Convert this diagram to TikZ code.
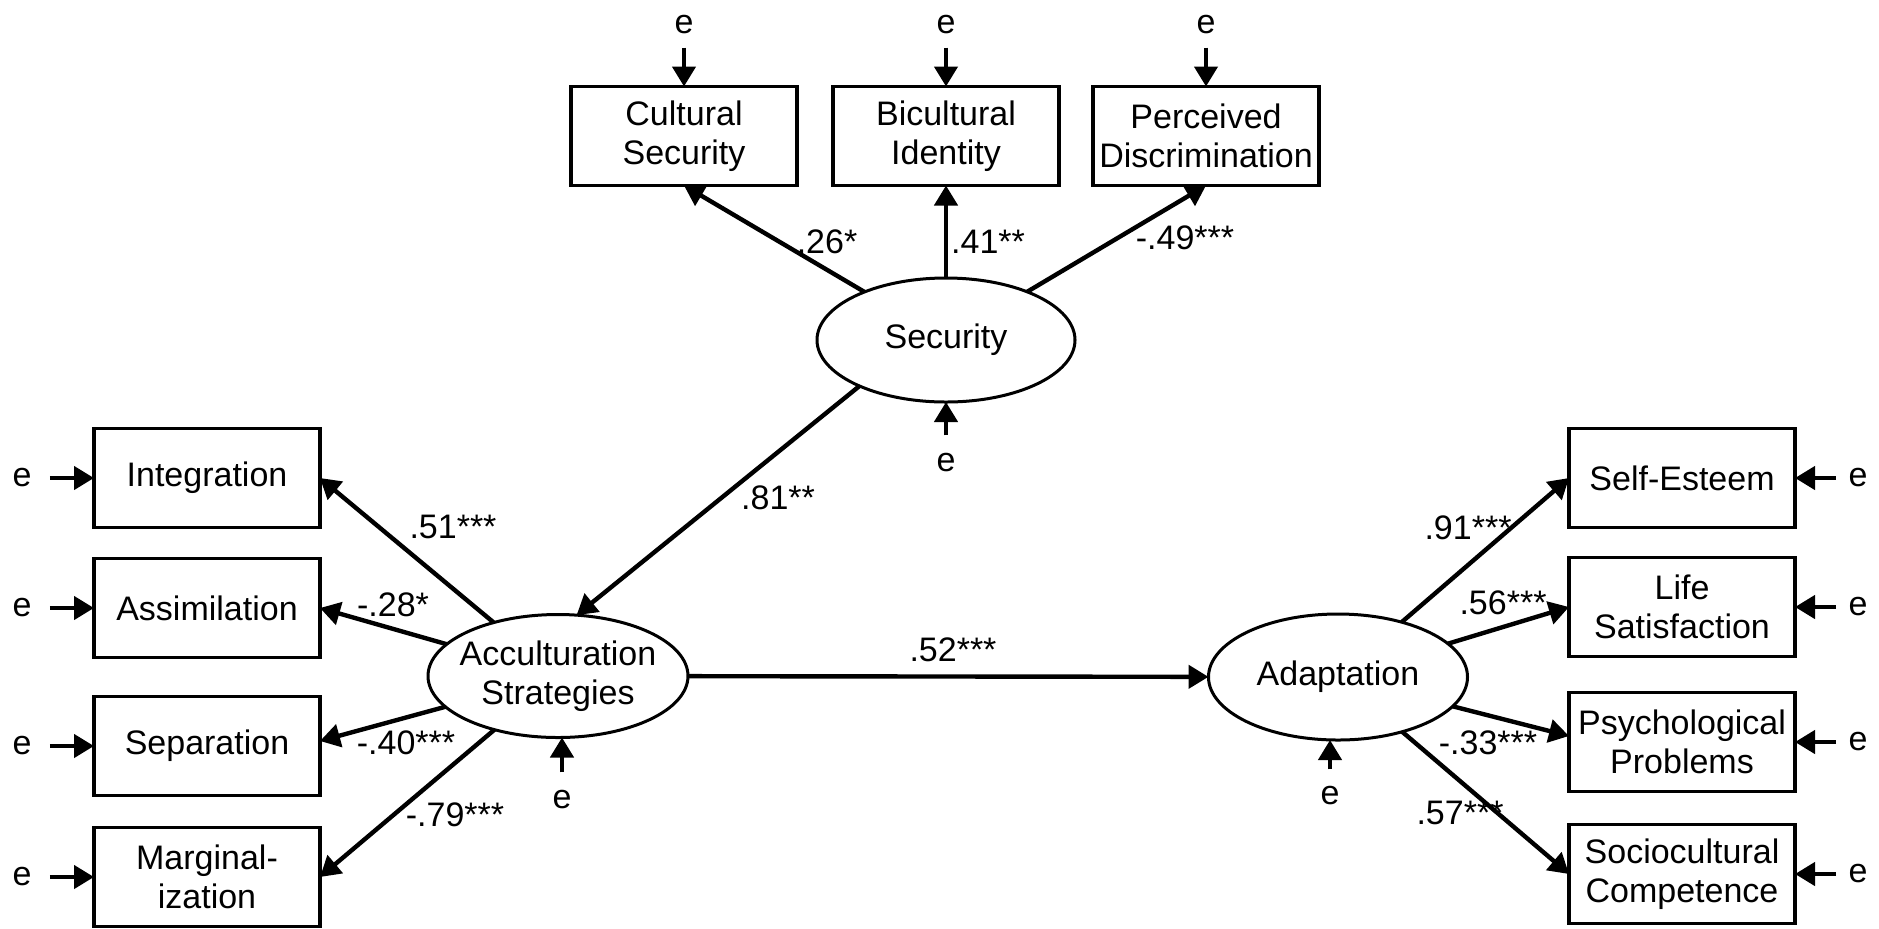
\documentclass[tikz,border=0pt]{standalone}
\usepackage{fontspec}
\setmainfont{Liberation Sans}
\usetikzlibrary{arrows.meta,shapes.geometric}
\begin{document}
\begin{tikzpicture}[x=0.5pt,y=-0.5pt,
  font=\fontsize{17}{19.5}\selectfont,
  obs/.style={draw,line width=1.7pt,minimum width=113pt,minimum height=49.5pt,inner sep=0pt,align=center,outer sep=0pt},
  lat/.style={draw,ellipse,line width=1.5pt,inner sep=0pt,outer sep=0pt},
  evar/.style={inner sep=0pt},
  coef/.style={inner sep=0pt},
  arr/.style={line width=2.2pt,-{Triangle[length=10pt,width=11.5pt]}}]
\useasboundingbox (0,0) rectangle (1879,928);
% top indicators
\node[obs] (cs) at (684,136) {Cultural\\Security};
\node[obs] (bi) at (946,136) {Bicultural\\Identity};
\node[obs] (pd) at (1206,136) {Perceived\\Discrimination};
% latent variables
\node[lat,minimum width=129pt,minimum height=62pt,label={center:Security}] (sec) at (946,340) {};
\node[lat,minimum width=130pt,minimum height=61.5pt,label={[align=center]center:{Acculturation\\Strategies}}] (acc) at (558,676) {};
\node[lat,minimum width=129.5pt,minimum height=63pt,label={center:Adaptation}] (ada) at (1338,677) {};
% left indicators
\node[obs] (int) at (207,478) {Integration};
\node[obs] (ass) at (207,608) {Assimilation};
\node[obs] (sep) at (207,746) {Separation};
\node[obs] (mar) at (207,877) {Marginal-\\ization};
% right indicators
\node[obs] (se) at (1682,478) {Self-Esteem};
\node[obs] (ls) at (1682,607) {Life\\Satisfaction};
\node[obs] (pp) at (1682,742) {Psychological\\Problems};
\node[obs] (sc) at (1682,874) {Sociocultural\\Competence};
% error terms
\node[evar] (ecs) at (684,25) {e};
\node[evar] (ebi) at (946,25) {e};
\node[evar] (epd) at (1206,25) {e};
\node[evar] (esec) at (946,463) {e};
\node[evar] (eacc) at (562,800) {e};
\node[evar] (eada) at (1330,796) {e};
\node[evar] (eint) at (22,478) {e};
\node[evar] (eass) at (22,608) {e};
\node[evar] (esep) at (22,746) {e};
\node[evar] (emar) at (22,877) {e};
\node[evar] (ese) at (1858,478) {e};
\node[evar] (els) at (1858,607) {e};
\node[evar] (epp) at (1858,742) {e};
\node[evar] (esc) at (1858,874) {e};
% error arrows
\draw[arr,shorten <=6.5pt] (ecs) -- (cs);
\draw[arr,shorten <=6.5pt] (ebi) -- (bi);
\draw[arr,shorten <=6.5pt] (epd) -- (pd);
\draw[arr,shorten <=9pt] (esec) -- (sec);
\draw[arr,shorten <=9pt] (eacc) -- (eacc |- acc.south);
\draw[arr,shorten <=8.5pt] (eada) -- (eada |- ada.south);
\foreach \e/\b in {eint/int,eass/ass,esep/sep,emar/mar}
  \draw[arr,shorten <=9pt] (\e) -- (\b);
\foreach \e/\b in {ese/se,els/ls,epp/pp,esc/sc}
  \draw[arr,shorten <=6pt] (\e) -- (\b);
% structural paths
\draw[arr] (sec) -- (cs.south);
\draw[arr] (sec) -- (bi);
\draw[arr] (sec) -- (pd.south);
\draw[arr] (sec.208) -- (acc.73);
\draw[arr] (acc) -- (int.east);
\draw[arr] (acc) -- (ass.east);
\draw[arr] (acc) -- ([yshift=2.5pt]sep.east);
\draw[arr] (acc) -- (mar.east);
\draw[arr] (acc) -- (ada);
\draw[arr] (ada) -- (se.west);
\draw[arr] (ada) -- (ls.west);
\draw[arr] (ada) -- ([yshift=3pt]pp.west);
\draw[arr] (ada) -- (sc.west);
% coefficients
\node[coef] (l26) at (827,242) {.26*};
\node[coef] (l41) at (988,242) {.41**};
\node[coef] (l49) at (1185,238) {-.49***};
\node[coef] (l81) at (778,498) {.81**};
\node[coef] (l51) at (453,527) {.51***};
\node[coef] (l28) at (393,605) {-.28*};
\node[coef] (l40) at (406,743) {-.40***};
\node[coef] (l79) at (455,815) {-.79***};
\node[coef] (l52) at (953,650) {.52***};
\node[coef] (l91) at (1468,528) {.91***};
\node[coef] (l56) at (1503,603) {.56***};
\node[coef] (l33) at (1488,743) {-.33***};
\node[coef] (l57) at (1460,813) {.57***};
\end{tikzpicture}
\end{document}
